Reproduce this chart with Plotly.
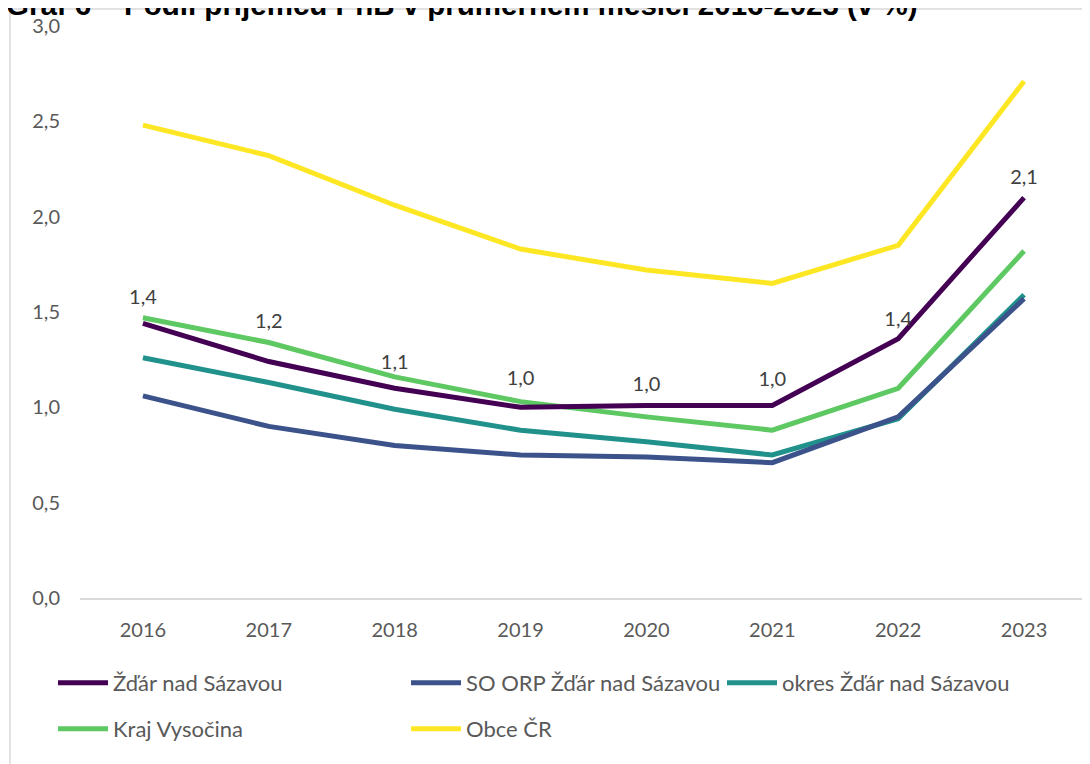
import plotly.graph_objects as go

years = ["2016", "2017", "2018", "2019", "2020", "2021", "2022", "2023"]

zdar = [1.44, 1.24, 1.10, 1.00, 1.01, 1.01, 1.36, 2.10]
so_orp = [1.06, 0.90, 0.80, 0.75, 0.74, 0.71, 0.95, 1.57]
okres = [1.26, 1.13, 0.99, 0.88, 0.82, 0.75, 0.94, 1.59]
kraj = [1.47, 1.34, 1.16, 1.03, 0.95, 0.88, 1.10, 1.82]
obce = [2.48, 2.32, 2.06, 1.83, 1.72, 1.65, 1.85, 2.71]

names = ["Žďár nad Sázavou", "SO ORP Žďár nad Sázavou", "okres Žďár nad Sázavou",
         "Kraj Vysočina", "Obce ČR"]
colors = ["#440154", "#3b528b", "#21918c", "#5ec962", "#fde725"]
title_text = "Graf 6 – Podíl příjemců PnB v průměrném měsíci 2016-2023 (v %)"

series = [zdar, so_orp, okres, kraj, obce]
legend_ids = ["legend", "legend2", "legend3", "legend4", "legend5"]

# invisible marker sizes that set how far each data label sits above its point
label_gap = [22, 44, 22, 26, 14, 22, 10, 12]

FONT = "Lato, Open Sans, sans-serif"
OFF = 8  # default page body margin
W, H = 1082, 756
ml, mr, mt, mb = 72, 3, 18, 166
pw, ph = W - ml - mr, H - mt - mb

def px_x(sx):
    return (sx - OFF - ml) / pw

def px_y(sy):
    return (H - mb - (sy - OFF)) / ph

fig = go.Figure()
# draw order: obce first (back), zdar last (front)
order = [4, 3, 2, 1, 0]
for i in order:
    if i == 0:
        kw = dict(mode="lines+markers+text", texttemplate="%{y:.1f}", textposition="top center",
                  marker=dict(size=label_gap, color="rgba(0,0,0,0)", opacity=0,
                              line=dict(width=0, color="rgba(0,0,0,0)")),
                  textfont=dict(family=FONT, size=20, color="#404040"))
    else:
        kw = dict(mode="lines")
    fig.add_trace(go.Scatter(
        x=years, y=series[i], name=names[i],
        line=dict(color=colors[i], width=5),
        legend=legend_ids[i], showlegend=True, **kw))

# legend positions (screen px left, screen px center y)
leg_pos = [(53, 683), (406, 683), (722, 683), (53, 729), (406, 729)]
legend_layout = {}
for lid, (lx, ly) in zip(legend_ids, leg_pos):
    legend_layout[lid] = dict(
        x=px_x(lx), y=px_y(ly), xanchor="left", yanchor="middle",
        xref="paper", yref="paper",
        font=dict(family=FONT, size=22, color="#595959"),
        bgcolor="rgba(0,0,0,0)", itemwidth=50, borderwidth=0,
    )

fig.update_layout(
    width=W, height=H,
    margin=dict(l=ml, r=mr, t=mt, b=mb, autoexpand=False),
    paper_bgcolor="white", plot_bgcolor="white",
    separators=", ",
    showlegend=True,
    xaxis=dict(
        type="category", showgrid=False, showline=True, linecolor="#d9d9d9", linewidth=1.5,
        ticks="outside", ticklen=13, tickcolor="rgba(0,0,0,0)",
        tickfont=dict(family=FONT, size=20, color="#595959"),
        range=[-0.5, 7.5], fixedrange=True,
    ),
    yaxis=dict(
        range=[0, 3.0], dtick=0.5, tickformat=".1f", showgrid=False, zeroline=False,
        showline=False, ticks="outside", ticklen=15, tickcolor="rgba(0,0,0,0)",
        tickfont=dict(family=FONT, size=20, color="#595959"),
    ),
    **legend_layout,
)

# outer frame
fig.add_shape(type="rect", xref="paper", yref="paper",
              x0=px_x(10), x1=px_x(1110), y0=px_y(790), y1=px_y(9),
              line=dict(color="#d9d9d9", width=1.5), fillcolor="rgba(0,0,0,0)", layer="below")

# title, partially cut off at top like the reference
fig.add_annotation(text="<b>" + title_text + "</b>", xref="paper", yref="paper",
                   x=px_x(4), y=px_y(23), xanchor="left", yanchor="bottom",
                   showarrow=False,
                   font=dict(family="Liberation Sans, Arial, sans-serif", size=29.5, color="#000000"))

fig.write_html("out.html")
